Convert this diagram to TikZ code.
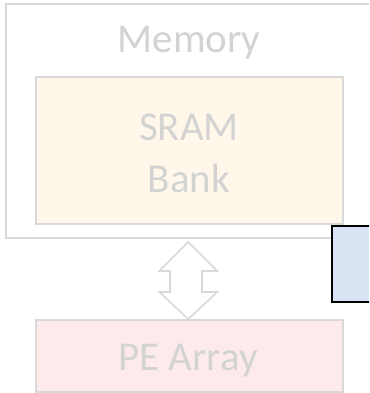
\documentclass[tikz,border=0pt]{standalone}
\usepackage{fontspec}
\setmainfont{Carlito}
\definecolor{boxline}{HTML}{D9D9D9}
\definecolor{txtgray}{HTML}{D3D3D3}
\definecolor{sramfill}{HTML}{FFF8EA}
\definecolor{pefill}{HTML}{FDEBEB}
\definecolor{bluefill}{HTML}{DAE3F3}
\tikzset{
  box/.style={draw=boxline, line width=2pt},
  lbl/.style={text=txtgray, font=\fontsize{41}{52}\selectfont, inner sep=0pt, anchor=base, align=center}
}
\begin{document}
\begin{tikzpicture}[x=1pt,y=-1pt]
\useasboundingbox (0,0) rectangle (369,393);
\clip (0,0) rectangle (369,393);
% Memory outer box
\draw[box] (6,4) rectangle (385,238);
\node[lbl] (mem) at (189,53) {Memory};
% SRAM bank
\draw[box, fill=sramfill] (36,77) rectangle (343,224);
\node[lbl] (sram) at (189,140) {SRAM};
\node[lbl] (bank) at (189,192) {Bank};
% PE array
\draw[box, fill=pefill] (36,320) rectangle (343,392);
\node[lbl] (pe) at (188,370) {PE Array};
% double arrow
\draw[box, line width=1.6pt, fill=white, line join=miter]
  (188.3,242) -- (217.3,271) -- (202,271) -- (202,292) -- (217.3,292)
  -- (188.3,319) -- (159.3,292) -- (170,292) -- (170,271) -- (159.3,271) -- cycle;
% blue box
\draw[line width=2pt, fill=bluefill] (332,226) rectangle (385,302);
\end{tikzpicture}
\end{document}
